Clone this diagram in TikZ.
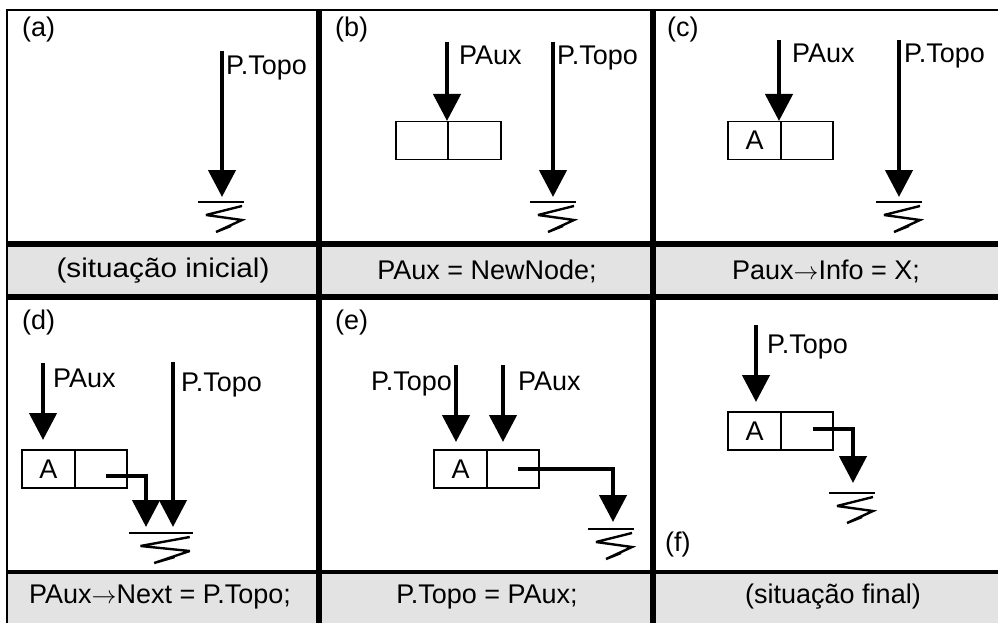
\documentclass[tikz,border=0pt]{standalone}
\usepackage{fontspec}
\setmainfont{Liberation Sans}
\usetikzlibrary{arrows.meta}
\definecolor{capgray}{RGB}{227,227,227}
\newcommand\lblfont{\fontsize{27}{31}\selectfont}
\newcommand\rarr{\ensuremath{\rightarrow}}
\begin{document}
\begin{tikzpicture}[x=1pt,y=-1pt,
  ptr/.style={line width=4.5pt,-{Triangle[length=27pt,width=27pt]}},
  cellbox/.style={draw,line width=1.6pt,minimum width=52.5pt,minimum height=38pt,inner sep=0pt,font=\lblfont},
  lbl/.style={font=\lblfont,inner sep=0pt},
  frame/.style={line width=2.5pt},
  sep/.style={line width=5.5pt},
  gline/.style={line width=2.4pt,line join=miter,miter limit=4},
  gnd/.pic={
    \draw[gline] (-23,0) -- (23,0);
    \draw[gline] (21,4) -- (-15,13) -- (21,18) -- (-5,30) -- (10,24);
  }
]
\useasboundingbox (0,0) rectangle (998,623);
\clip (0,0) rectangle (998,623);
% frame
\fill[capgray] (7,244) rectangle (1020,297);
\fill[capgray] (7,572) rectangle (1020,640);
\draw[frame] (7,640) -- (7,10) -- (1020,10);
\draw[sep] (7,244) -- (1020,244);
\draw[sep] (7,297) -- (1020,297);
\draw[line width=3.5pt] (7,572) -- (1020,572);
\draw[sep] (319,10) -- (319,640);
\draw[sep] (653,10) -- (653,640);

% ---------- (a)
\node[lbl,anchor=base west] (la) at (22,37) {(a)};
\coordinate (a1s) at (222,51);
\coordinate (a1t) at (222,197);
\draw[ptr] (a1s) -- (a1t);
\node[lbl,anchor=base west] (a1l) at (226,75) {P.Topo};
\pic at (221,202) {gnd};

% ---------- (b)
\node[lbl,anchor=base west] (lb) at (335,37) {(b)};
\node[cellbox] (bL) at (422,140.5) {};
\node[cellbox] (bR) at (474.5,140.5) {};
\coordinate (b1s) at (447,42);
\coordinate (b1t) at (447,121);
\draw[ptr] (b1s) -- (b1t);
\node[lbl,anchor=base west] (b1l) at (459,65) {PAux};
\coordinate (b2s) at (553,42);
\coordinate (b2t) at (553,197);
\draw[ptr] (b2s) -- (b2t);
\node[lbl,anchor=base west] (b2l) at (557,65) {P.Topo};
\pic at (553,202) {gnd};

% ---------- (c)
\node[lbl,anchor=base west] (lc) at (667,37) {(c)};
\node[cellbox] (cL) at (754.5,140.5) {A};
\node[cellbox] (cR) at (807,140.5) {};
\coordinate (c1s) at (779,40);
\coordinate (c1t) at (779,121);
\draw[ptr] (c1s) -- (c1t);
\node[lbl,anchor=base west] (c1l) at (792,63) {PAux};
\coordinate (c2s) at (899,40);
\coordinate (c2t) at (899,197);
\draw[ptr] (c2s) -- (c2t);
\node[lbl,anchor=base west] (c2l) at (904,63) {P.Topo};
\pic at (899,202) {gnd};

% ---------- (d)
\node[lbl,anchor=base west] (ld) at (22,329) {(d)};
\node[cellbox] (dL) at (48.5,469) {A};
\node[cellbox] (dR) at (101,469) {};
\coordinate (d1s) at (43,363);
\coordinate (d1t) at (43,440);
\draw[ptr] (d1s) -- (d1t);
\node[lbl,anchor=base west] (d1l) at (53,387) {PAux};
\coordinate (dps) at (106,476);
\coordinate (dpt) at (146,527);
\draw[ptr] (dps) -| (dpt);
\coordinate (d2s) at (173,362);
\coordinate (d2t) at (173,527);
\draw[ptr] (d2s) -- (d2t);
\node[lbl,anchor=base west] (d2l) at (181,391) {P.Topo};
\pic[xscale=1.37] at (161,533) {gnd};

% ---------- (e)
\node[lbl,anchor=base west] (le) at (335,329) {(e)};
\node[cellbox] (eL) at (460.5,469) {A};
\node[cellbox] (eR) at (513,469) {};
\coordinate (e1s) at (456,365);
\coordinate (e1t) at (456,442);
\draw[ptr] (e1s) -- (e1t);
\node[lbl,anchor=base east] (e1l) at (452,390) {P.Topo};
\coordinate (e2s) at (503,365);
\coordinate (e2t) at (503,442);
\draw[ptr] (e2s) -- (e2t);
\node[lbl,anchor=base west] (e2l) at (518,390) {PAux};
\coordinate (eps) at (518,469);
\coordinate (ept) at (613,522);
\draw[ptr] (eps) -| (ept);
\pic at (611,529) {gnd};

% ---------- (f)
\node[lbl,anchor=base west] (lf) at (665,551) {(f)};
\node[cellbox] (fL) at (754.5,431) {A};
\node[cellbox] (fR) at (807,431) {};
\coordinate (f1s) at (756,325);
\coordinate (f1t) at (756,402);
\draw[ptr] (f1s) -- (f1t);
\node[lbl,anchor=base west] (f1l) at (767,353) {P.Topo};
\coordinate (fps) at (813,429);
\coordinate (fpt) at (853,483);
\draw[ptr] (fps) -| (fpt);
\pic at (852,493) {gnd};

% ---------- captions
\node[lbl] (ca) at (163,271) {\scalebox{1.1}[1]{(situação inicial)}};
\node[lbl] (cb) at (487,271) {PAux = NewNode;};
\node[lbl] (cc) at (826,271) {Paux\rarr Info = X;};
\node[lbl] (cd) at (160,597) {PAux\rarr Next = P.Topo;};
\node[lbl] (ce) at (487,597) {P.Topo = PAux;};
\node[lbl] (cf) at (833,597) {(situação final)};
\end{tikzpicture}
\end{document}
